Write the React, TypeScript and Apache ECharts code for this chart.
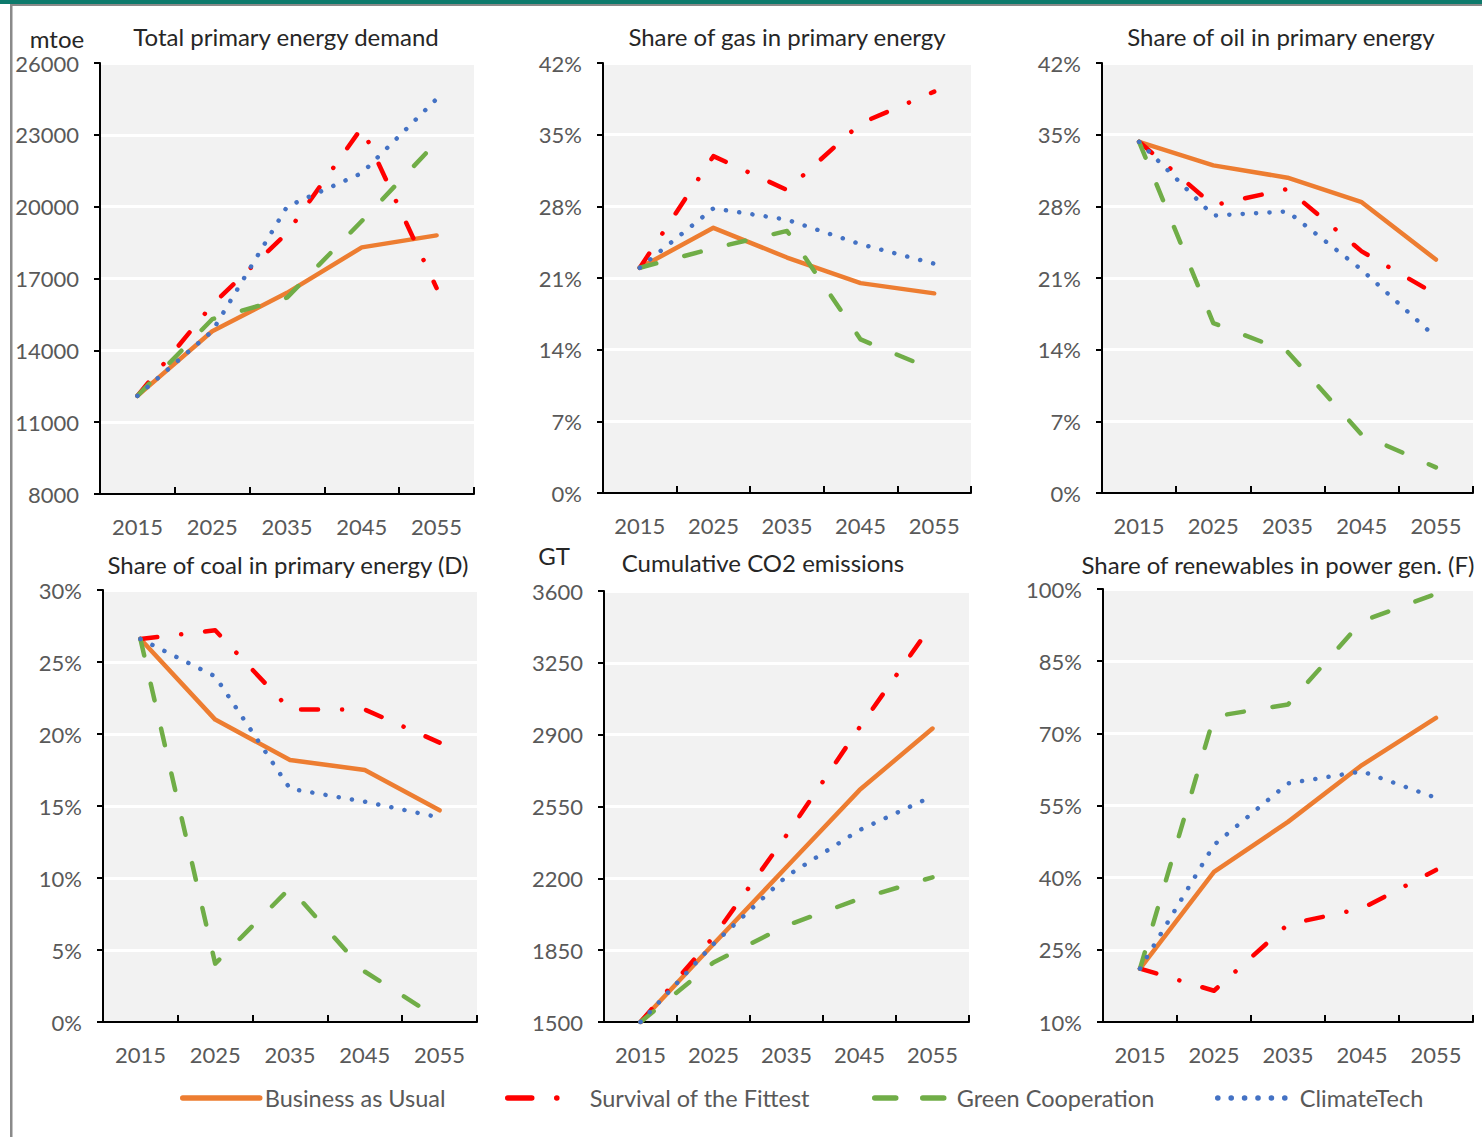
import React, { useEffect, useRef } from 'react';
import * as echarts from 'echarts';

// ---------- data ----------
const years = ['2015', '2025', '2035', '2045', '2055'];
const scenarioNames = ['Business as Usual', 'Survival of the Fittest', 'Green Cooperation', 'ClimateTech'];

// Total primary energy demand (mtoe)
const demandBAU = [12100, 14800, 16400, 18300, 18800];
const demandSOF = [12100, 15900, 18900, 23300, 16600];
const demandGC = [12100, 15300, 16200, 19400, 22700];
const demandCT = [12100, 14800, 20000, 21400, 24500];

// Share of gas in primary energy (%)
const gasBAU = [22.0, 25.9, 23.0, 20.5, 19.5];
const gasSOF = [22.0, 32.9, 29.6, 36.1, 39.2];
const gasGC = [22.0, 23.9, 25.6, 15.0, 12.0];
const gasCT = [22.0, 27.8, 26.7, 24.3, 22.4];

// Share of oil in primary energy (%)
const oilBAU = [34.3, 32.0, 30.8, 28.4, 22.8];
const oilSOF = [34.3, 28.1, 29.7, 23.6, 19.4];
const oilGC = [34.3, 16.6, 13.8, 5.7, 2.5];
const oilCT = [34.3, 27.1, 27.5, 21.8, 15.2];

// Share of coal in primary energy (%)
const coalBAU = [26.6, 21.0, 18.2, 17.5, 14.7];
const coalSOF = [26.6, 27.2, 21.7, 21.7, 19.4];
const coalGC = [26.6, 4.05, 9.3, 3.5, 0.2];
const coalCT = [26.6, 24.0, 16.2, 15.3, 14.2];

// Cumulative CO2 emissions (GT)
const co2BAU = [1500, 1880, 2255, 2630, 2930];
const co2SOF = [1500, 1915, 2410, 2935, 3440];
const co2GC = [1500, 1790, 1970, 2100, 2205];
const co2CT = [1500, 1880, 2210, 2435, 2600];

// Share of renewables in power generation (%)
const renBAU = [21.1, 41.2, 51.6, 63.4, 73.2];
const renSOF = [21.1, 16.5, 30.3, 33.6, 41.6];
const renGC = [21.1, 73.5, 76.0, 93.3, 99.0];
const renCT = [21.1, 46.8, 59.6, 62.1, 56.6];

const panelTitles = [
  'Total primary energy demand',
  'Share of gas in primary energy',
  'Share of oil in primary energy',
  'Share of coal in primary energy (D)',
  'Cumulative CO2 emissions',
  'Share of renewables in power gen. (F)',
];
const axisMin = [8000, 0, 0, 0, 1500, 10];
const axisMax = [26000, 42, 42, 30, 3600, 100];
const axisStep = [3000, 7, 7, 5, 350, 15];
const axisPct = [false, true, true, true, false, true];

// ---------- layout / style ----------
const FONT = 'Lato, "Open Sans", sans-serif';
const grids = [
  { left: 100, top: 63, width: 374, height: 431 },
  { left: 603, top: 63, width: 368, height: 430 },
  { left: 1102, top: 63, width: 371, height: 430 },
  { left: 103, top: 590, width: 374, height: 432 },
  { left: 604, top: 591, width: 365, height: 431 },
  { left: 1103, top: 589, width: 370, height: 433 },
];
const titlePos = [
  { x: 286, y: 24 },
  { x: 787, y: 24 },
  { x: 1281, y: 24 },
  { x: 288, y: 552 },
  { x: 763, y: 550 },
  { x: 1278, y: 552 },
];
const seriesStyles = [
  { color: '#ED7D31', type: 'solid' as any },
  { color: '#FF0000', type: [17, 24, 0.1, 24] },
  { color: '#70AD47', type: [17, 29] },
  { color: '#4472C4', type: [0.1, 13.3] },
];
const legendDash = ['solid' as any, [24, 25, 0.1, 200], [21, 27], [0.1, 13.3]];
const legendLeft = [180, 505, 872, 1215];

export default function App() {
  const ref = useRef<HTMLDivElement>(null);

  useEffect(() => {
    if (!ref.current) return;
    const chart = echarts.init(ref.current, undefined, { renderer: 'svg' });

    const panelData = [
      [demandBAU, demandSOF, demandGC, demandCT],
      [gasBAU, gasSOF, gasGC, gasCT],
      [oilBAU, oilSOF, oilGC, oilCT],
      [coalBAU, coalSOF, coalGC, coalCT],
      [co2BAU, co2SOF, co2GC, co2CT],
      [renBAU, renSOF, renGC, renCT],
    ];

    const titleStyle = { fontFamily: FONT, fontSize: 24, fontWeight: 'normal', color: '#262626' };
    const titles: any[] = panelTitles.map((t, i) => ({
      text: t,
      left: titlePos[i].x,
      top: titlePos[i].y,
      textAlign: 'center',
      padding: 0,
      textStyle: titleStyle,
    }));
    titles.push({ text: 'mtoe', left: 57, top: 26, textAlign: 'center', padding: 0, textStyle: titleStyle });
    titles.push({ text: 'GT', left: 554, top: 543, textAlign: 'center', padding: 0, textStyle: titleStyle });

    const xAxis = grids.map((_, i) => ({
      type: 'category',
      gridIndex: i,
      data: years,
      boundaryGap: true,
      axisLine: { show: true, lineStyle: { color: '#000', width: 2 } },
      axisTick: { show: true, inside: true, length: 7, lineStyle: { color: '#000', width: 2 } },
      axisLabel: { interval: 0, fontFamily: FONT, fontSize: 22, color: '#595959', margin: 21 },
      splitLine: { show: false },
    }));

    const yAxis = grids.map((_, i) => ({
      type: 'value',
      gridIndex: i,
      min: axisMin[i],
      max: axisMax[i],
      interval: axisStep[i],
      axisLine: { show: true, lineStyle: { color: '#000', width: 2 } },
      axisTick: { show: true, inside: false, length: 6, lineStyle: { color: '#000', width: 2 } },
      axisLabel: {
        fontFamily: FONT, fontSize: 22, color: '#595959', margin: 21,
        formatter: (v: number) => (axisPct[i] ? `${v}%` : `${v}`),
      },
      splitLine: { show: true, lineStyle: { color: '#ffffff', width: 3 } },
    }));

    const series: any[] = [];
    panelData.forEach((sets, i) => {
      sets.forEach((vals, k) => {
        series.push({
          type: 'line',
          name: scenarioNames[k],
          xAxisIndex: i,
          yAxisIndex: i,
          data: vals,
          symbol: 'none',
          showSymbol: false,
          z: 2 + k,
          lineStyle: {
            color: seriesStyles[k].color,
            type: seriesStyles[k].type,
            width: 4.5,
            cap: 'round',
            join: 'round',
          },
          itemStyle: { color: seriesStyles[k].color },
        });
      });
    });

    const legend = scenarioNames.map((n, k) => ({
      data: [n],
      left: legendLeft[k],
      top: 1086,
      padding: 0,
      itemWidth: 77,
      itemHeight: 14,
      selectedMode: false,
      textStyle: { fontFamily: FONT, fontSize: 23.5, color: '#595959' },
      lineStyle: { width: 5.5, type: legendDash[k] },
      itemStyle: { color: 'transparent', borderColor: 'transparent', borderWidth: 0, opacity: 0 },
    }));

    chart.setOption({
      animation: false,
      backgroundColor: '#ffffff',
      title: titles,
      legend,
      grid: grids.map((g) => ({
        ...g,
        show: true,
        backgroundColor: '#f2f2f2',
        borderWidth: 0,
        containLabel: false,
      })),
      xAxis,
      yAxis,
      series,
      graphic: [
        { type: 'rect', shape: { x: 0, y: 0, width: 1482, height: 4 }, style: { fill: '#0d7a6c' }, z: 100 },
        { type: 'rect', shape: { x: 10, y: 4, width: 1472, height: 2 }, style: { fill: '#8a8a8a' }, z: 100 },
        { type: 'rect', shape: { x: 10, y: 4, width: 2.5, height: 1133 }, style: { fill: '#8a8a8a' }, z: 100 },
      ],
    });

    return () => chart.dispose();
  }, []);

  return (
    <div
      ref={ref}
      style={{ position: 'absolute', left: 0, top: 0, width: 1482, height: 1137 }}
    />
  );
}
